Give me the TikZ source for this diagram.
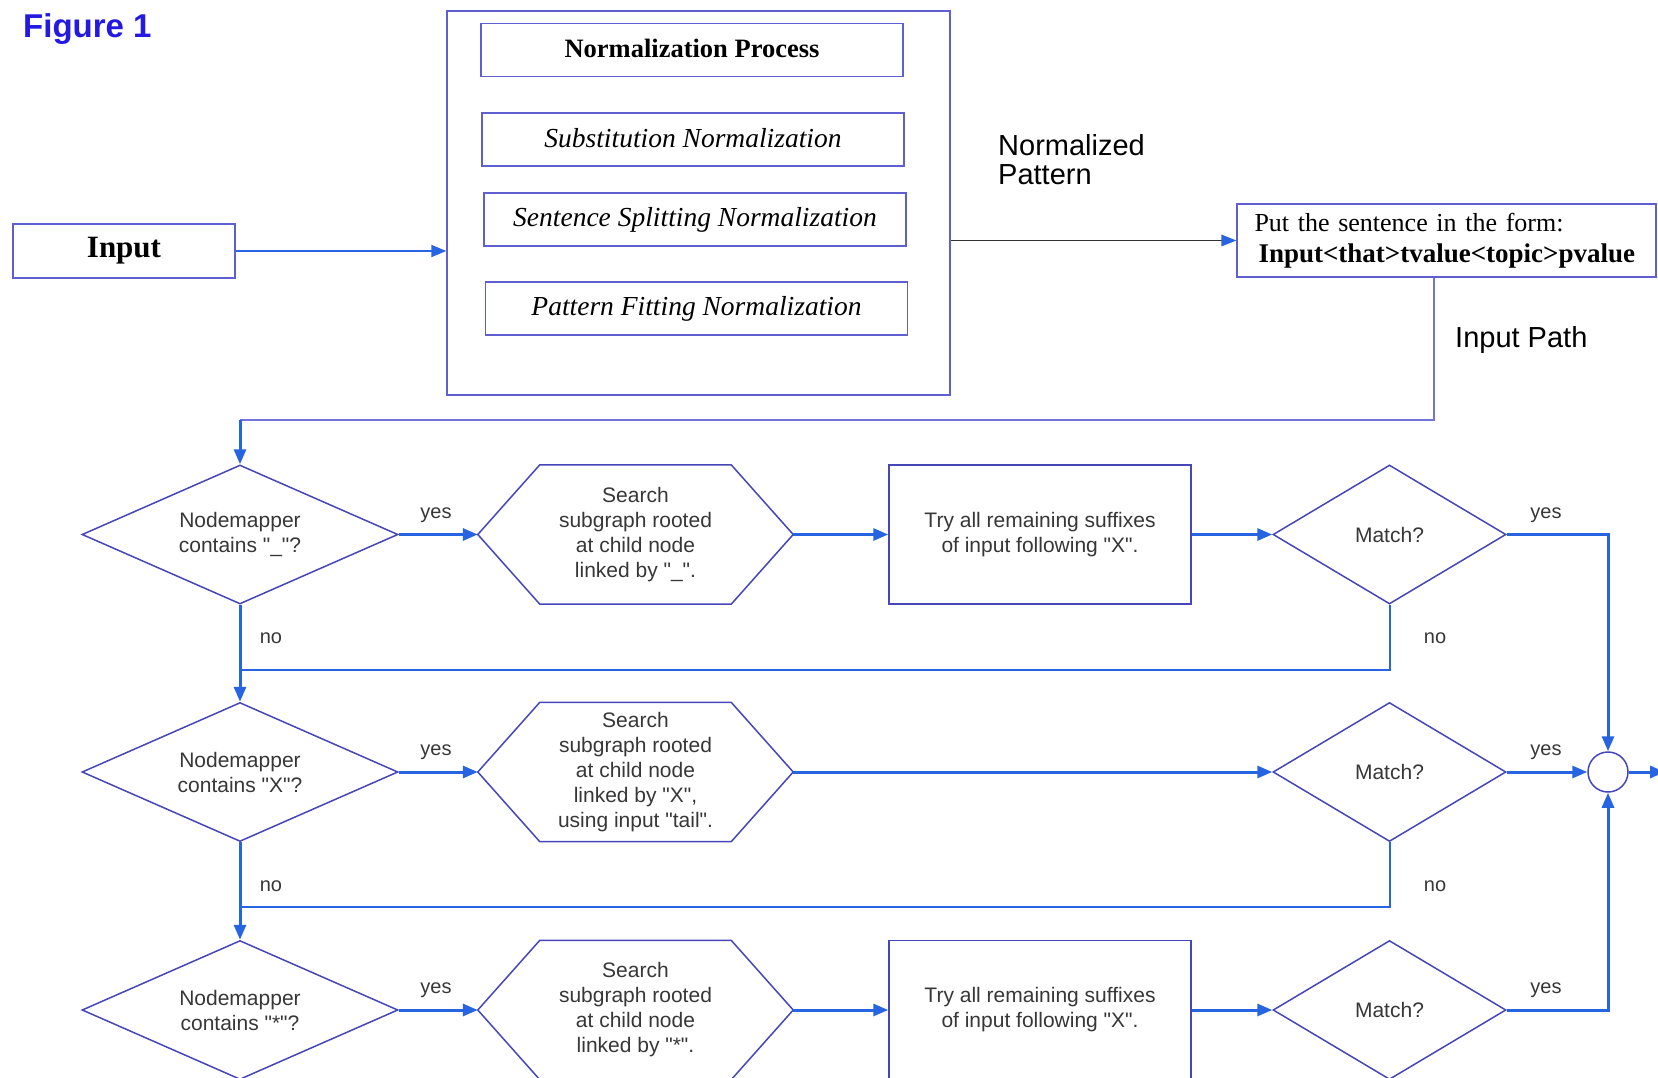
\documentclass[tikz,border=0pt]{standalone}
\usepackage{fontspec}
\setmainfont{Liberation Serif}
\setsansfont{Liberation Sans}
\newfontfamily\flowfont{Liberation Sans}
\usetikzlibrary{arrows.meta,shapes.geometric,calc}
\definecolor{flowblue}{RGB}{38,100,225}
\definecolor{shapeblue}{RGB}{70,70,185}
\definecolor{boxblue}{RGB}{95,95,210}
\definecolor{pathlav}{RGB}{115,115,220}
\definecolor{figblue}{RGB}{35,25,225}
\definecolor{txtgray}{RGB}{55,55,55}
\newcommand\myfs[2]{\fontsize{#1}{#2}\selectfont}
\tikzset{
  >={Triangle[length=15pt,width=12pt]},
  flow/.style={draw=flowblue, line width=3pt},
  noline/.style={draw=flowblue, line width=2pt},
  pathline/.style={draw=pathlav, line width=2pt},
  darkline/.style={draw=black!80, line width=1.5pt},
  dia/.style={diamond, draw=shapeblue, line width=1.5pt, inner sep=0pt, shape aspect=2.27,
    minimum width=316pt, minimum height=139pt,
    font=\flowfont\myfs{21}{25}, text=txtgray, align=center},
  matchdia/.style={dia, shape aspect=1.68, minimum width=233pt},
  hexbox/.style={rectangle, minimum width=315pt, minimum height=139pt, inner sep=0pt,
    font=\flowfont\myfs{21}{25}, text=txtgray, align=center},
  hexline/.style={draw=shapeblue, line width=1.5pt},
  tryrect/.style={rectangle, draw=shapeblue, line width=1.5pt, minimum width=302pt,
    minimum height=139pt, inner sep=0pt, font=\flowfont\myfs{21}{25}, text=txtgray, align=center},
  nbox/.style={rectangle, draw=boxblue, line width=1.5pt, minimum width=422pt,
    minimum height=53pt, inner sep=0pt, font=\itshape\myfs{27.5}{30}},
  lbl/.style={font=\flowfont\myfs{20}{24}, text=txtgray, inner sep=0pt},
  biglbl/.style={font=\sffamily\myfs{29}{29}, text=black, inner sep=0pt, align=left, anchor=west}
}
\newcommand\hexoutline[1]{%
  \draw[hexline] (#1.west) -- ([xshift=62pt]#1.north west) -- ([xshift=-62pt]#1.north east)
    -- (#1.east) -- ([xshift=-62pt]#1.south east) -- ([xshift=62pt]#1.south west) -- cycle;}
\begin{document}
\begin{tikzpicture}[x=1pt,y=-1pt]
\useasboundingbox[fill=white] (0,0) rectangle (1658,1078);

% title
\node[anchor=west, inner sep=0pt, font=\sffamily\bfseries\myfs{33}{33}, text=figblue] (fig) at (23,29) {Figure 1};

% input
\node[rectangle, draw=boxblue, line width=1.5pt, minimum width=222pt, minimum height=54pt,
  font=\bfseries\myfs{31}{32}] (inp) at (124,251) {Input};

% normalization block
\node[rectangle, draw=boxblue, line width=1.5pt, minimum width=503pt, minimum height=384pt] (norm) at (698.5,203) {};
\node[nbox, font=\bfseries\myfs{26.5}{28}] (np) at (692,50) {\raisebox{4pt}{Normalization Process}};
\node[nbox] (sub) at (693,139.5) {\raisebox{4pt}{Substitution Normalization}};
\node[nbox] (sen) at (695,219.5) {\raisebox{3pt}{Sentence Splitting Normalization}};
\node[nbox] (pat) at (696.5,308.5) {\raisebox{3pt}{Pattern Fitting Normalization}};

\draw[flow, line width=2pt, ->] (inp.east) -- (inp.east -| norm.west);

\node[biglbl] (normpat) at (998,160) {Normalized\\Pattern};

% put box
\node[rectangle, draw=boxblue, line width=1.5pt, minimum width=419pt, minimum height=73pt,
  inner sep=0pt, text width=400pt, align=left, font=\myfs{26}{31}] (put) at (1446.5,240.5)
  {\hspace*{8pt}Put the sentence in the form:\\\hspace*{12pt}{\bfseries\myfs{27}{31}Input<that>tvalue<topic>pvalue}};
\draw[darkline] (norm.east |- put.west) -- ([xshift=-14pt]put.west);
\draw[draw=none, fill=flowblue] (put.west) -- ++(-15,-6) -- ++(0,12) -- cycle;

\node[biglbl] (ipath) at (1455,340) {Input Path};

% flowchart nodes
\node[dia] (d1) at (240,534.5) {Nodemapper\\contains "\_"?};
\node[dia] (d2) at (240,772) {Nodemapper\\contains "X"?};
\node[dia] (d3) at (240,1010) {Nodemapper\\contains "*"?};

\node[hexbox] (h1) at (635.5,534.5) {Search\\subgraph rooted\\at child node\\linked by "\_".};
\node[hexbox] (h2) at (635.5,772) {Search\\subgraph rooted\\at child node\\linked by "X",\\using input "tail".};
\node[hexbox] (h3) at (635.5,1010) {Search\\subgraph rooted\\at child node\\linked by "*".};
\hexoutline{h1}
\hexoutline{h2}
\hexoutline{h3}

\node[tryrect] (r1) at (1040,534.5) {Try all remaining suffixes\\of input following "X".};
\node[tryrect] (r3) at (1040,1010) {Try all remaining suffixes\\of input following "X".};

\node[matchdia] (m1) at (1389.5,534.5) {Match?};
\node[matchdia] (m2) at (1389.5,772) {Match?};
\node[matchdia] (m3) at (1389.5,1010) {Match?};

\node[circle, draw=shapeblue, line width=1.5pt, minimum size=40pt, inner sep=0pt] (join) at (1608,772) {};

% input path
\coordinate (turn) at (240,420);
\draw[pathline] (put.south -| 1434,0) |- (turn);
\draw[flow, ->] (turn) -- (d1.north);

% row 1
\draw[flow, ->] (d1.east) -- (h1.west);
\draw[flow, ->] (h1.east) -- (r1.west);
\draw[flow, ->] (r1.east) -- (m1.west);
\draw[flow, ->] (m1.east) -| (join.north);
\coordinate (n1) at (240,670);
\draw[noline] (m1.south) |- (n1);
\draw[flow, ->] (d1.south) -- (d2.north);

% row 2
\draw[flow, ->] (d2.east) -- (h2.west);
\draw[flow, ->] (h2.east) -- (m2.west);
\draw[flow, ->] (m2.east) -- (join.west);
\coordinate (n2) at (240,907);
\draw[noline] (m2.south) |- (n2);
\draw[flow, ->] (d2.south) -- (d3.north);

% row 3
\draw[flow, ->] (d3.east) -- (h3.west);
\draw[flow, ->] (h3.east) -- (r3.west);
\draw[flow, ->] (r3.east) -- (m3.west);
\draw[flow, ->] (m3.east) -| (join.south);

\coordinate (out) at (1665,772);
\draw[flow, ->] (join.east) -- (out);

% labels
\node[lbl] (y1) at (436,515) {yes};
\node[lbl] (y2) at (436,752) {yes};
\node[lbl] (y3) at (436,990) {yes};
\node[lbl] (y4) at (1546,515) {yes};
\node[lbl] (y5) at (1546,752) {yes};
\node[lbl] (y6) at (1546,990) {yes};
\node[lbl] (no1) at (271,638) {no};
\node[lbl] (no2) at (271,886) {no};
\node[lbl] (no3) at (1435,638) {no};
\node[lbl] (no4) at (1435,886) {no};
\end{tikzpicture}
\end{document}
